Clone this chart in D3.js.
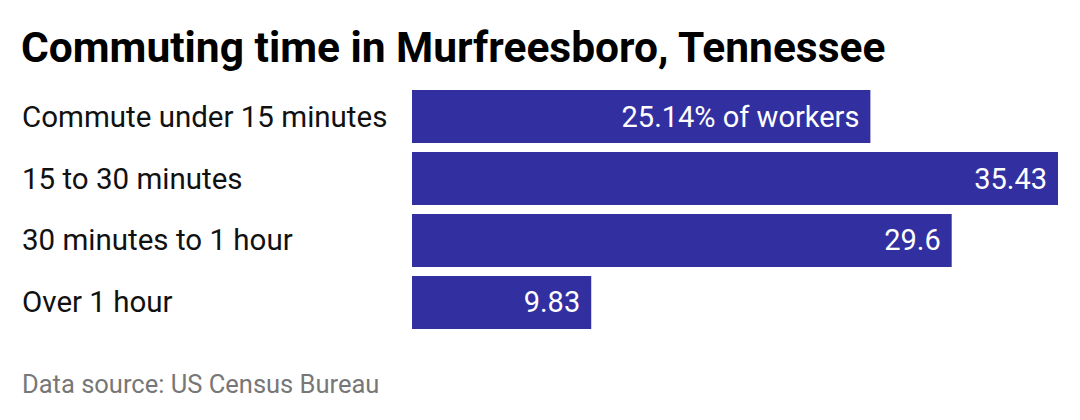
<!DOCTYPE html>
<html><head><meta charset="utf-8">
<script src="https://cdn.jsdelivr.net/npm/d3@7"></script>
<style>body{margin:0;background:#fff;font-family:Roboto,sans-serif}</style>
</head><body><svg id="c" width="1080" height="420"></svg>
<script>
const categories = ["Commute under 15 minutes","15 to 30 minutes","30 minutes to 1 hour","Over 1 hour"];
const values = [25.14, 35.43, 29.6, 9.83];
const valueLabels = ["25.14% of workers","35.43","29.6","9.83"];
const svg = d3.select("#c");
svg.append("text").attr("x",21).attr("y",62).attr("font-size",42.5).attr("font-weight",700).attr("fill","#000")
  .text("Commuting time in Murfreesboro, Tennessee");
const x = d3.scaleLinear().domain([0,35.43]).range([412,1058]);
const y = d3.scaleBand().domain(categories).range([90,329]).paddingInner(0.145).paddingOuter(0);
const g = svg.append("g");
g.selectAll("rect").data(values).join("rect")
  .attr("x",x(0)).attr("y",(d,i)=>y(categories[i])).attr("width",d=>x(d)-x(0)).attr("height",y.bandwidth())
  .attr("fill","#3230a0");
g.selectAll("text.v").data(values).join("text").attr("class","v")
  .attr("x",d=>x(d)-11).attr("y",(d,i)=>y(categories[i])+y.bandwidth()/2+10)
  .attr("text-anchor","end").attr("font-size",29).attr("fill","#fff").text((d,i)=>valueLabels[i]);
g.selectAll("text.c").data(categories).join("text").attr("class","c")
  .attr("x",22).attr("y",d=>y(d)+y.bandwidth()/2+10).attr("font-size",29.5).attr("fill","#111").text(d=>d);
svg.append("text").attr("x",22).attr("y",393).attr("font-size",25.5).attr("fill","#777").text("Data source: US Census Bureau");
</script></body></html>
